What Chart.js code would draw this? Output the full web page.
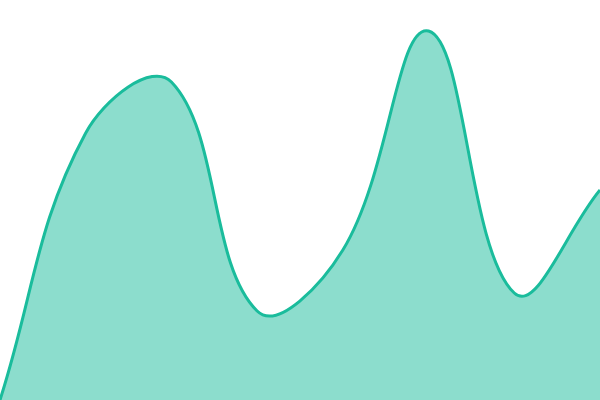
<!DOCTYPE html>
<html><head><meta charset="utf-8">
<script src="https://cdn.jsdelivr.net/npm/chart.js@4"></script>
<style>html,body{margin:0;padding:0;background:#fff}#w{width:600px;height:400px}</style>
</head><body><div id="w"><canvas id="c"></canvas></div>
<script>
const labels = ["1","2","3","4","5","6","7","8"];
const values = [0, 267, 318, 89, 150, 369, 107, 210];
const yMin = 0, yMax = 400;
new Chart(document.getElementById('c'), {
  type: 'line',
  data: { labels: labels, datasets: [{
    data: values, fill: 'origin', tension: 0.4,
    borderColor: '#1abc9c', backgroundColor: 'rgba(26,188,156,0.5)',
    borderWidth: 3, pointRadius: 0
  }]},
  options: {
    responsive: true, maintainAspectRatio: false, animation: false,
    layout: { padding: 0 },
    plugins: { legend: { display: false }, tooltip: { enabled: false } },
    scales: {
      x: { display: false, offset: false },
      y: { display: false, min: yMin, max: yMax }
    }
  }
});
</script></body></html>
